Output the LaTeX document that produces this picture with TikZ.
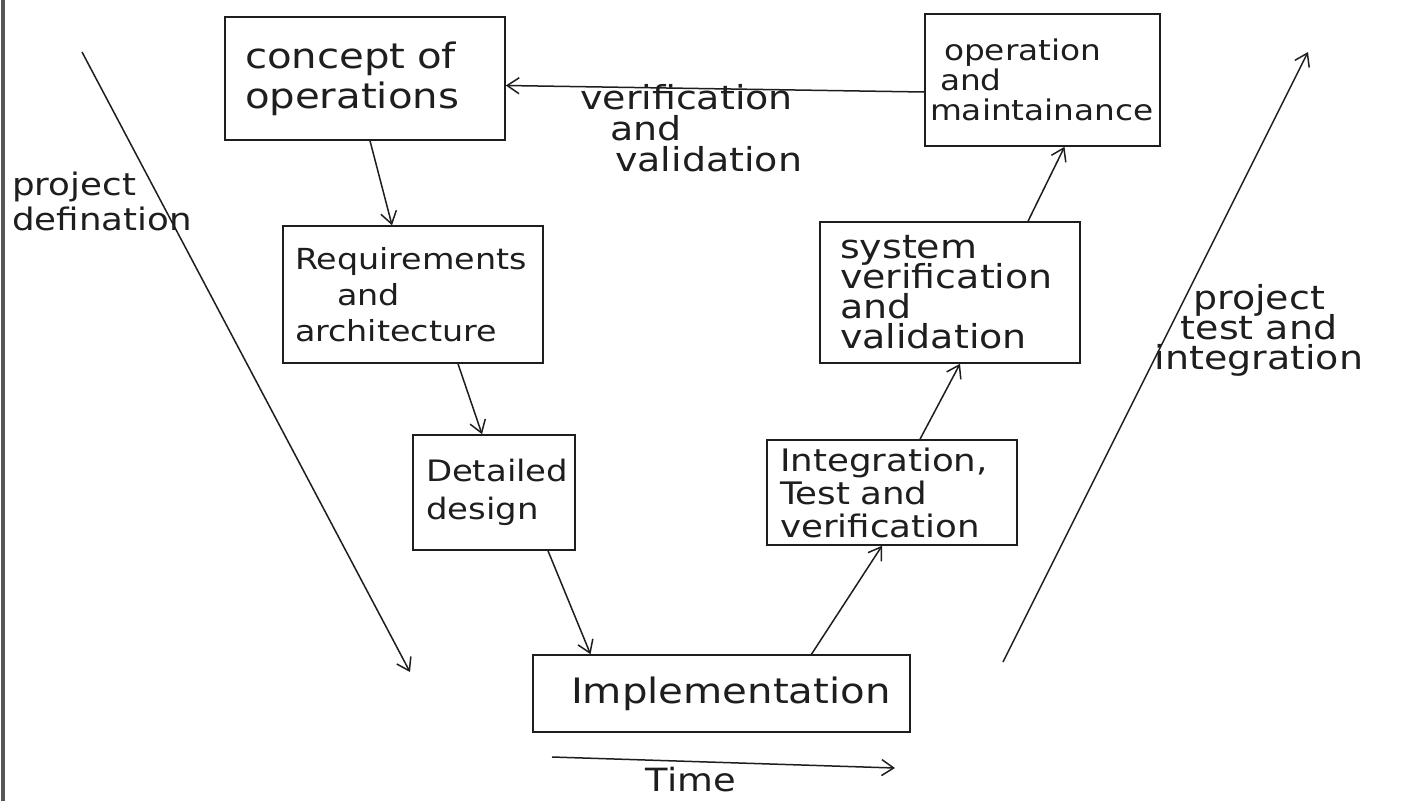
\documentclass[tikz,border=0pt]{standalone}
\usepackage{fontspec}
\setmainfont{DejaVu Sans}[FakeStretch=1.15]
\usetikzlibrary{arrows.meta}
\definecolor{ink}{HTML}{1E1E1E}
% size and exact line pitch (lines may sit close, as in hand lettering)
\newcommand\handsize[2]{\fontsize{#1}{#2}\selectfont\lineskiplimit=-100pt\relax}
\begin{document}
\begin{tikzpicture}[x=1pt,y=-1pt,
  stage/.style={draw=ink, line width=1.6pt, inner sep=0pt, align=left, text=ink},
  flow/.style={draw=ink, line width=1.5pt,
    -{Straight Barb[length=12pt,width=16pt,line width=1.5pt]}},
  note/.style={inner sep=0pt, text=ink}]
\fill[white] (0,0) rectangle (1426,801);
\useasboundingbox (0,0) rectangle (1426,801);

% page edge
\draw[ink!75, line width=3.5pt] (3,0) -- (3,801);

% stages of the V
\node[stage, minimum width=280pt, minimum height=123pt, text width=240pt,
  font={\handsize{35}{40}}]
  (concept) at (365,78.5) {concept of\\operations};
\node[stage, minimum width=260pt, minimum height=137pt, text width=236pt,
  font={\handsize{29}{36}}]
  (req) at (413,294.5) {Requirements\\\hspace*{42pt}and\\architecture};
\node[stage, minimum width=162pt, minimum height=115pt, text width=136pt,
  font={\handsize{29.5}{38}}]
  (det) at (494,492.5) {Detailed\\design};
\node[stage, minimum width=377pt, minimum height=77pt, text width=301pt,
  font={\handsize{35}{40}}]
  (impl) at (721.5,693.5) {Implementation};
\node[stage, minimum width=250pt, minimum height=105pt, text width=224pt,
  font={\handsize{31}{33}}]
  (integ) at (892,492.5) {Integration,\\Test and\\verification};
\node[stage, minimum width=260pt, minimum height=141pt, text width=220pt,
  font={\handsize{33}{30}}]
  (sys) at (950,292.5) {system\\verification\\and\\validation};
\node[stage, minimum width=235pt, minimum height=132pt, text width=225pt,
  font={\handsize{28.5}{30}}]
  (opm) at (1042.5,80) {\hspace*{14pt}operation\\\hspace*{10pt}and\\maintainance};

% connectors between stages
\draw[flow] ([xshift=5pt]concept.south) -- ([xshift=-21pt]req.north);
\draw[flow] ([xshift=45pt]req.south) -- ([xshift=-12pt]det.north);
\draw[flow] ([xshift=54pt]det.south) -- ([xshift=-131pt]impl.north);
\draw[flow] ([xshift=90pt]impl.north) -- ([xshift=-10pt]integ.south);
\draw[flow] ([xshift=28pt]integ.north) -- ([xshift=10pt]sys.south);
\draw[flow] ([xshift=78pt]sys.north) -- ([xshift=22pt]opm.south);
\draw[flow] ([yshift=-12pt]opm.west) -- ([yshift=-7pt]concept.east);

\node[note, align=left, anchor=north west, font={\handsize{33}{31}}] (vv) at (580,84)
  {verification\\\hspace*{30pt}and\\\hspace*{35pt}validation};

% phase arrows
\coordinate (pdA) at (82,52);
\coordinate (pdB) at (410,672);
\draw[flow] (pdA) -- (pdB);
\node[note, align=left, anchor=north west, font={\handsize{31}{35}}] (pdef) at (12,172)
  {project\\defination};

\coordinate (ptA) at (1003,662);
\coordinate (ptB) at (1308,52);
\draw[flow] (ptA) -- (ptB);
\node[note, align=center, font={\handsize{33}{30}}] (ptest) at (1259,330)
  {project\\test and\\integration};

% time axis
\coordinate (tA) at (552,757);
\coordinate (tB) at (895,768);
\draw[flow] (tA) -- (tB);
\node[note, font={\handsize{32}{32}}] (time) at (691,780) {Time};
\end{tikzpicture}
\end{document}
